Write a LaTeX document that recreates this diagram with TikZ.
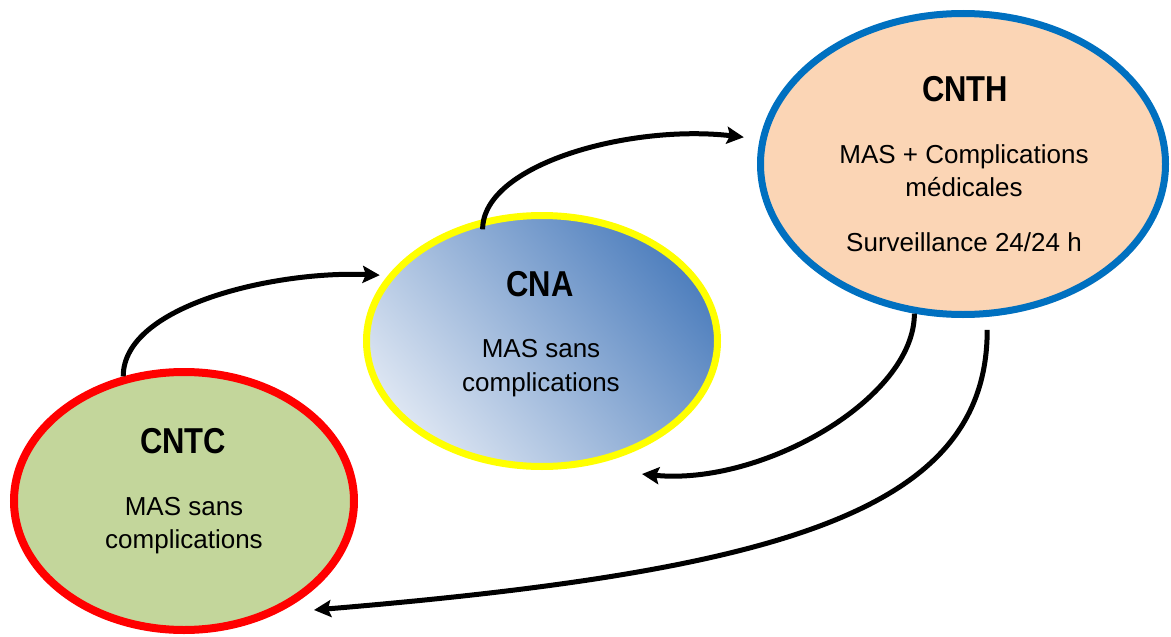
\documentclass[tikz,border=0pt]{standalone}
\usepackage{fontspec}
\setmainfont{Liberation Sans}
\newfontfamily\titlefont[FakeStretch=0.86]{Liberation Sans}
\usetikzlibrary{shapes.geometric,arrows.meta,shadows}
\definecolor{cntcfill}{HTML}{C3D69B}
\definecolor{cntcline}{HTML}{FF0000}
\definecolor{cnaline}{HTML}{FFFF00}
\definecolor{cnadark}{HTML}{5080BE}
\definecolor{cnalight}{HTML}{DCE5F2}
\definecolor{cnthfill}{HTML}{FBD5B5}
\definecolor{cnthline}{HTML}{0070C0}
\begin{document}
\begin{tikzpicture}[x=1pt,y=-1pt,
  zone/.style={ellipse, inner sep=0pt},
  ttl/.style={font=\titlefont\bfseries\fontsize{36}{40}\selectfont, inner sep=0pt},
  txt/.style={font=\fontsize{26}{30}\selectfont, inner sep=0pt, anchor=base},
  flow/.style={line width=5pt, black, -{Stealth[length=17pt,width=17pt,inset=3pt]}}]
\useasboundingbox (0,0) rectangle (1171,637);

% ellipses
\node[zone, draw=cntcline, line width=8pt, fill=cntcfill,
      minimum width=340pt, minimum height=258pt] (cntc) at (184,501) {};
\node[zone, draw=cnaline, line width=7pt, top color=cnadark, bottom color=cnalight, shading angle=-50,
      minimum width=351pt, minimum height=251pt] (cna) at (542,341) {};
\node[zone, draw=cnthline, line width=7pt, fill=cnthfill,
      drop shadow={shadow xshift=2pt, shadow yshift=-3pt, fill=black!45, opacity=0.35},
      minimum width=405pt, minimum height=301pt] (cnth) at (963,164) {};

% texts
\node[ttl] (cntct) at (183,441) {CNTC};
\node[txt] (cntc1) at (184,515) {MAS sans};
\node[txt] (cntc2) at (184,548) {complications};

\node[ttl] (cnat) at (540,284) {CNA};
\node[txt] (cna1) at (541,357) {MAS sans};
\node[txt] (cna2) at (541,391) {complications};

\node[ttl] (cntht) at (965,89) {CNTH};
\node[txt] (cnth1) at (964,163) {MAS + Complications};
\node[txt] (cnth2) at (964,196) {médicales};
\node[txt] (cnth3) at (964,251) {Surveillance 24/24 h};

% free ends
\coordinate (a3end) at (642,474);
\coordinate (a4end) at (314,610);

% connectors
\draw[flow, shorten >=8pt] (cntc.116) .. controls +(0,-72) and +(-110,-5) .. (cna.157);
\draw[flow, shorten <=-10pt, shorten >=16pt] (cna.116) .. controls +(0,-55) and +(-130,-15) .. (cnth.173);
\draw[flow] (cnth.252) .. controls +(0,85) and +(120,12) .. (a3end);
\draw[flow, shorten <=13pt] (cnth.279) .. controls +(0,190) and +(480,-40) .. (a4end);
\end{tikzpicture}
\end{document}
